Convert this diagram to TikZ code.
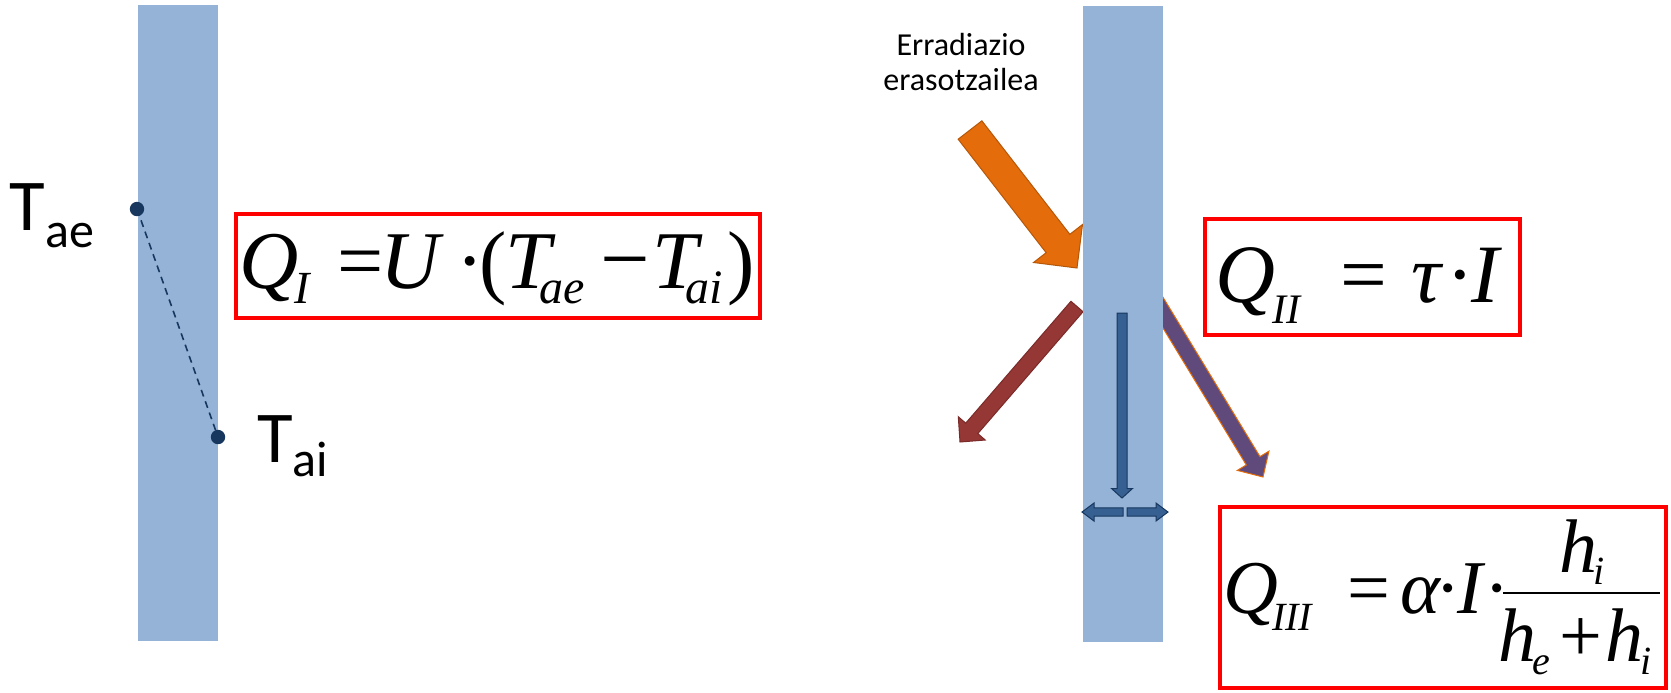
\documentclass[tikz,border=0pt]{standalone}
\usepackage{fontspec}
\setmainfont{Carlito}
\newfontfamily\tnr{Liberation Serif}
\usetikzlibrary{calc}
\definecolor{wallc}{HTML}{95B3D7}
\definecolor{orangec}{HTML}{E46C0A}
\definecolor{orangeedge}{HTML}{B65708}
\definecolor{redarr}{HTML}{953735}
\definecolor{redarredge}{HTML}{7A2A28}
\definecolor{purplec}{HTML}{604A7B}
\definecolor{bluec}{HTML}{376092}
\definecolor{navyc}{HTML}{17375E}
\tikzset{
  wall/.style={fill=wallc, inner sep=0pt, minimum width=40pt, minimum height=318pt},
  redbox/.style={draw=red, line width=2pt, inner sep=0pt},
  glyph/.style={anchor=base, inner sep=0pt, outer sep=0pt},
  lbl/.style={inner sep=0pt, outer sep=0pt, text=black},
  tdot/.style={fill=navyc},
}
\newcommand\eqglyph[5]{\node[glyph, font=\tnr\fontsize{#4}{#4}\selectfont] (#1) at (#2,#3) {#5};}
% #1 fill, #2 edge, #3 tail, #4 tip, #5 shaft half width, #6 head half width, #7 head length
\newcommand\fatarrow[7]{%
  \coordinate (fab) at ($(#4)!#7!(#3)$);
  \filldraw[fill=#1, draw=#2, line width=0.5pt, line join=miter]
    ($(#3)!#5!90:(#4)$) -- ($(fab)!#5!-90:(#3)$) -- ($(fab)!#6!-90:(#3)$) -- (#4)
    -- ($(fab)!#6!90:(#3)$) -- ($(fab)!#5!90:(#3)$) -- ($(#3)!#5!-90:(#4)$) -- cycle;}
\begin{document}
\begin{tikzpicture}[x=0.5pt, y=-0.5pt]
\useasboundingbox (0,0) rectangle (1671,692);
\fill[white] (0,0) rectangle (1671,692);

% arrow end points
\coordinate (otail) at (970,130);
\coordinate (otip) at (1077,268);
\coordinate (rtail) at (1077,306.5);
\coordinate (rtip) at (960,442);
\coordinate (ptail) at (1148,288);
\coordinate (ptip) at (1263,477);
\coordinate (btail) at (1122,313);
\coordinate (btip) at (1122,498);
\coordinate (ltail) at (1123,512);
\coordinate (ltip) at (1082,512);
\coordinate (rrtail) at (1127,512);
\coordinate (rrtip) at (1168,512);

% arrows behind the wall
\fatarrow{purplec}{orangec}{ptail}{ptip}{4pt}{9.25pt}{9.5pt}
\fatarrow{redarr}{redarredge}{rtail}{rtip}{4pt}{8.9pt}{9pt}
\fatarrow{orangec}{orangeedge}{otail}{otip}{7.5pt}{15.5pt}{15.5pt}

% walls
\node[wall] (wall1) at (178,323) {};
\node[wall] (wall2) at (1123,323.5) {};

% blue arrows in the wall
\fatarrow{bluec}{navyc}{btail}{btip}{2.5pt}{5.2pt}{4.7pt}
\fatarrow{bluec}{navyc}{ltail}{ltip}{2.1pt}{4.5pt}{6pt}
\fatarrow{bluec}{navyc}{rrtail}{rrtip}{2.1pt}{4.5pt}{6pt}

% temperature profile
\coordinate (dae) at (137,209);
\coordinate (dai) at (218,437);
\draw[navyc, line width=0.8pt, dash pattern=on 3.5pt off 2.5pt] (dae) -- (dai);
\fill[tdot] (dae) circle (3.6pt);
\fill[tdot] (dai) circle (3.6pt);

\node[lbl, anchor=base west, font=\fontsize{36.5}{36.5}\selectfont] (tae) at (10,230)
  {T\raisebox{-8.5pt}{\fontsize{25}{25}\selectfont ae}};
\node[lbl, anchor=base west, font=\fontsize{36.5}{36.5}\selectfont] (tai) at (257,462)
  {T\raisebox{-7pt}{\fontsize{25}{25}\selectfont ai}};

\node[lbl, anchor=north, align=center, font=\fontsize{16}{17.5}\selectfont] (erad) at (961,33)
  {Erradiazio\\erasotzailea};

% boxes
\node[redbox, minimum width=262pt, minimum height=52pt] (box1) at (498,266) {};
\node[redbox, minimum width=157.5pt, minimum height=58pt] (box2) at (1362.5,277) {};
\node[redbox, minimum width=223pt, minimum height=90.5pt] (box3) at (1443,597.5) {};

% equation 1
\eqglyph{q1Q}{269}{288}{41}{\itshape Q}
\eqglyph{q1I}{302}{303}{23}{\itshape I}
\eqglyph{q1eq}{361}{288}{41}{=}
\eqglyph{q1U}{410}{288}{41}{\itshape U}
\eqglyph{q1dot}{470}{288}{41}{·}
\eqglyph{q1lp}{493}{288}{41}{(}
\eqglyph{q1T}{528}{288}{41}{\itshape T}
\eqglyph{q1ae}{562}{303}{24}{\itshape ae}
\eqglyph{q1mi}{625}{288}{44}{−}
\eqglyph{q1Tb}{675}{288}{41}{\itshape T}
\eqglyph{q1ai}{704}{303}{24}{\itshape ai}
\eqglyph{q1rp}{741}{288}{41}{)}

% equation 2
\eqglyph{q2Q}{1245}{302}{41.5}{\itshape Q}
\eqglyph{q2II}{1286}{323}{21}{\itshape II}
\eqglyph{q2eq}{1364}{302}{41.5}{=}
\eqglyph{q2tau}{1426}{302}{41.5}{\itshape τ}
\eqglyph{q2dot}{1460}{302}{41.5}{·}
\eqglyph{q2I}{1485}{302}{41.5}{\itshape I}

% equation 3
\eqglyph{q3Q}{1251}{613}{38}{\itshape Q}
\eqglyph{q3III}{1292}{630}{20}{\itshape III}
\eqglyph{q3eq}{1369}{613}{38}{=}
\eqglyph{q3al}{1420}{613}{38}{\itshape α}
\eqglyph{q3dot}{1448}{613}{38}{·}
\eqglyph{q3I}{1470}{613}{38}{\itshape I}
\eqglyph{q3dotb}{1497}{613}{38}{·}
\coordinate (fracl) at (1503,593);
\coordinate (fracr) at (1660,593);
\draw[line width=1pt] (fracl) -- (fracr);
\eqglyph{q3nh}{1578}{572}{38}{\itshape h}
\eqglyph{q3ni}{1599}{584}{20}{\itshape i}
\eqglyph{q3dh}{1517}{661}{38}{\itshape h}
\eqglyph{q3de}{1541}{674}{20}{\itshape e}
\eqglyph{q3plus}{1581}{661}{38}{+}
\eqglyph{q3dh2}{1624}{661}{38}{\itshape h}
\eqglyph{q3di}{1646}{674}{20}{\itshape i}
\end{tikzpicture}
\end{document}
